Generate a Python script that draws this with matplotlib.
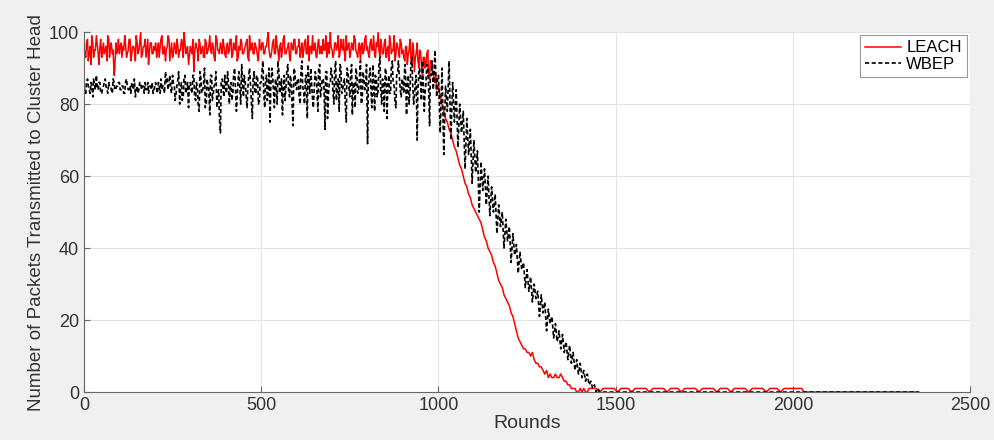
import numpy as np
import matplotlib
matplotlib.use('Agg')
import matplotlib.pyplot as plt

plt.rcParams['font.family'] = ['Liberation Sans', 'DejaVu Sans']

step = 5

# LEACH, rounds 0,5,..,995
leach_a = [int(v) for v in """
96 93 98 94 91 97 95 99 94 96 93 97 95 92 98 96 94 88 97 95
94 97 96 99 93 95 98 94 96 92 97 95 100 94 96 93 98 95 97 94
95 93 97 96 99 94 92 96 98 95 93 97 94 96 95 98 93 97 95 91
96 94 89 97 95 98 94 96 93 97 95 99 94 96 92 98 95 97 94 96
93 97 95 98 94 96 99 93 95 97 94 96 98 92 95 97 94 96 93 98
95 97 94 96 100 93 95 98 94 96 92 97 95 99 94 96 93 97 95 98
94 96 93 97 95 98 94 92 96 99 95 93 97 94 96 98 95 93 97 100
95 94 97 96 93 98 95 94 99 96 93 97 95 98 94 96 92 97 95 99
96 93 98 95 94 97 100 93 96 94 98 95 92 97 95 99 94 96 93 97
95 92 96 94 98 91 95 93 97 90 94 88 93 91 95 87 92 89 86 84
""".split()]
# LEACH, rounds 2,7,..,997
leach_b = [int(v) for v in """
94 97 92 96 99 93 95 97 91 98 95 94 96 99 93 97 95 90 94 98
96 93 95 97 94 98 92 96 95 99 94 97 93 96 98 95 91 97 94 96
97 95 93 98 94 96 95 99 92 97 94 96 98 93 95 97 100 94 96 93
95 98 94 96 92 97 95 93 98 94 96 95 97 93 99 95 94 96 98 94
96 94 98 93 97 95 92 96 98 94 95 97 93 99 96 94 97 95 92 96
97 94 96 98 95 93 97 94 99 95 96 93 98 94 95 97 92 96 98 94
96 98 95 93 97 94 99 96 94 95 97 93 98 96 94 95 99 97 94 96
93 97 95 99 94 96 98 92 95 97 94 96 99 95 93 97 96 94 98 95
94 97 95 99 93 96 95 98 94 97 93 96 99 94 95 92 97 95 98 94
93 96 91 95 93 97 89 94 92 95 91 93 90 94 88 92 90 87 88 85
""".split()]
# LEACH, rounds 1000..1420
leach_drop = [85, 82, 80, 78, 76, 75, 73, 72, 70, 68, 67, 65, 63, 62, 60, 58, 57,
              55, 54, 52, 51, 50, 49, 48, 47, 45, 43, 42, 40, 39, 38, 36, 35, 33,
              31, 30, 29, 27, 26, 25, 24, 22, 21, 19, 17, 15, 14, 13, 12, 12, 11,
              11, 10, 11, 9, 8, 8, 7, 7, 6, 5, 6, 4, 5, 4, 4, 5, 4, 4, 5, 4, 3, 3,
              2, 2, 1, 1, 1, 0, 0, 1, 0, 1, 0, 0]
# LEACH tail, rounds 1425..2025 (every 10), then zero up to 2355
leach_tail = [int(v) for v in """
1 1 1 0 1 1 1 1 0 1 1 1 0 1 1 1 1 0 1 1 1 1 0 1 1 1 0 1 1 1 1
0 1 1 1 1 0 1 1 1 0 1 1 1 1 0 1 1 1 1 0 1 1 1 0 1 1 1 1 1 1
""".split()]
leach_end = [0, 0]

# WBEP, rounds 0,5,..,995
wbep_a = [int(v) for v in """
85 83 87 84 86 82 85 88 84 86 83 85 87 84 86 85 83 86 84 85
86 84 85 83 87 84 85 86 84 82 85 84 86 85 83 84 86 85 84 83
85 84 86 83 84 85 89 87 86 84 88 85 83 87 80 86 82 88 84 79
86 83 88 81 85 78 87 84 90 80 85 77 88 83 86 79 84 72 87 82
85 89 80 86 83 90 78 87 84 91 82 86 79 88 85 76 89 83 87 81
86 92 79 88 84 75 90 83 87 80 89 84 77 88 85 91 82 86 74 89
84 87 80 92 83 88 76 86 90 81 85 88 78 91 84 87 73 89 83 86
88 80 92 85 78 90 84 87 75 89 82 91 86 79 88 84 92 81 87 85
69 88 83 91 78 87 84 93 80 86 90 76 88 83 92 85 79 89 87 82
86 91 77 88 84 93 80 87 70 89 85 92 78 86 90 74 88 84 95 82
""".split()]
# WBEP, rounds 2,7,..,997
wbep_b = [int(v) for v in """
84 86 85 83 85 87 84 85 86 83 84 86 85 83 85 84 87 84 85 86
84 85 83 86 85 84 83 85 87 84 83 86 84 85 86 84 83 85 86 84
86 83 85 87 85 83 86 84 88 83 86 81 85 89 84 81 87 83 86 85
84 88 82 86 80 89 83 85 79 87 84 88 81 85 89 83 76 86 84 88
83 87 84 81 88 85 82 89 80 86 88 83 84 90 81 87 83 88 80 86
89 83 86 81 90 85 88 79 86 92 83 87 85 81 89 84 88 80 90 85
87 82 89 85 80 88 91 83 86 79 89 84 90 82 87 85 89 76 86 90
84 89 81 87 91 83 86 80 90 85 88 77 86 90 83 87 80 89 84 91
85 90 79 86 88 82 91 84 87 78 89 85 83 90 86 81 88 92 84 87
83 89 85 80 91 86 82 88 84 90 81 87 83 91 85 88 92 86 90 87
""".split()]
# WBEP, rounds 1000..1460
wbep_drop = [88, 72, 90, 66, 85, 78, 92, 70, 86, 75, 84, 68, 80, 72, 78, 62, 76, 66,
             73, 58, 70, 61, 67, 50, 64, 56, 62, 52, 60, 49, 57, 50, 55, 44, 52, 46,
             50, 40, 48, 42, 46, 36, 44, 38, 41, 33, 39, 34, 36, 29, 34, 28, 32, 25,
             30, 26, 28, 21, 27, 22, 25, 17, 23, 19, 21, 15, 19, 14, 17, 12, 16, 11,
             14, 9, 13, 8, 11, 6, 9, 5, 8, 4, 6, 3, 5, 2, 3, 1, 2, 0, 1, 0, 0]
wbep_end = [0, 0]


def rounds(start, n, s):
    return start + s * np.arange(n)


def interleave(a, b):
    # a at rounds 0,5,..; b at rounds 2,7,..
    x = np.empty(len(a) + len(b))
    y = np.empty(len(a) + len(b))
    x[0::2] = rounds(0, len(a), step)
    x[1::2] = rounds(2, len(b), step)
    y[0::2] = a
    y[1::2] = b
    return x, y


lx, ly = interleave(leach_a, leach_b)
leach_x = np.concatenate([lx, rounds(1000, len(leach_drop), step),
                          rounds(1425, len(leach_tail), 10), [2030, 2355]])
leach_y = np.concatenate([ly, leach_drop, leach_tail, leach_end])

wx, wy = interleave(wbep_a, wbep_b)
wbep_x = np.concatenate([wx, rounds(1000, len(wbep_drop), step), [1465, 2355]])
wbep_y = np.concatenate([wy, wbep_drop, wbep_end])

fig = plt.figure(figsize=(9.94, 4.4), dpi=100, facecolor='#f0f0f0')
ax = fig.add_axes([0.0845, 0.109, 0.8915, 0.818])
ax.set_facecolor('white')

ax.plot(leach_x, leach_y, color='#ff0000', lw=1.1, label='LEACH')
ax.plot(wbep_x, wbep_y, color='black', lw=1.2, ls='--', dashes=(2.5, 1.5), label='WBEP')

ax.set_xlim(0, 2500)
ax.set_ylim(0, 100)
ax.set_xticks([0, 500, 1000, 1500, 2000, 2500])
ax.set_yticks([0, 20, 40, 60, 80, 100])
ax.grid(True, color='#e3e3e3', lw=0.8)
ax.set_axisbelow(True)
for s in ['top', 'right']:
    ax.spines[s].set_visible(False)
for s in ['left', 'bottom']:
    ax.spines[s].set_color('#666666')
ax.tick_params(direction='in', length=4, colors='#666666', labelcolor='#333333', labelsize=13)
ax.set_xlabel('Rounds', fontsize=14, color='#333333', labelpad=1)
ax.set_ylabel('Number of Packets Transmitted to Cluster Head', fontsize=13.5, color='#333333', labelpad=3)

leg = ax.legend(loc='upper right', fontsize=12, handlelength=2.2, handletextpad=0.3,
                borderpad=0.3, labelspacing=0.1, fancybox=False, framealpha=1,
                borderaxespad=0.2)
leg.get_frame().set_edgecolor('#999999')
leg.get_frame().set_linewidth(0.8)

plt.savefig('out.png', dpi=100, facecolor=fig.get_facecolor())
plt.close()
